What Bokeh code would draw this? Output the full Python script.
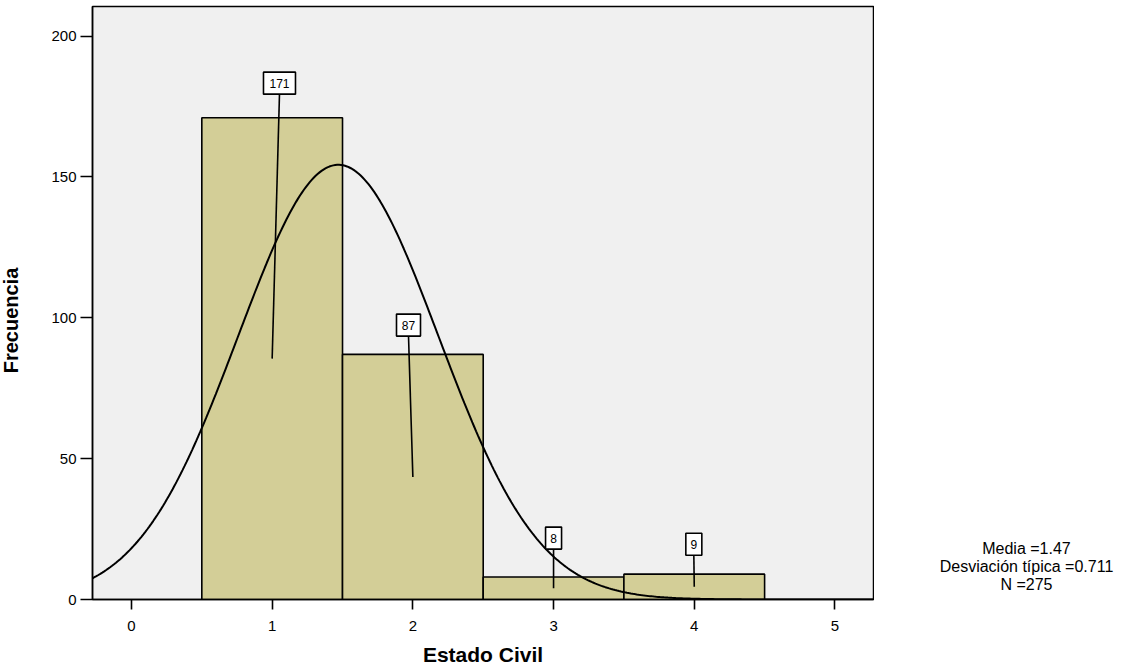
import numpy as np
from bokeh.plotting import figure
from bokeh.layouts import row
from bokeh.models import FixedTicker, Range1d
from bokeh.core.properties import value
from bokeh.embed import file_html
from bokeh.resources import INLINE

# ---- data ----
categories = [1, 2, 3, 4]
counts = [171, 87, 8, 9]
count_labels = ["171", "87", "8", "9"]
x_ticks = [0, 1, 2, 3, 4, 5]
y_ticks = [0, 50, 100, 150, 200]
mean_val = 1.47
sd_val = 0.711
n_val = 275
bin_width = 1.0
x_title = "Estado Civil"
y_title = "Frecuencia"

# ---- layout / style constants ----
FONT = "Liberation Sans"
BAR_FILL = "#D3CE97"
BG = "#F0F0F0"
label_dx = [0.052, -0.031, 0.0, -0.003]
label_dy = [12.3, 10.4, 13.8, 10.6]
LEFT_W, RIGHT_W, H = 40, 268, 668
MAIN_W = 1142 - LEFT_W - RIGHT_W
FRAME_TOP, FRAME_BOTTOM = 6, 599  # canvas rows of the aligned frames

# ---- left panel: y axis title (range maps to canvas pixels) ----
pl = figure(width=LEFT_W, height=H, output_backend="svg", toolbar_location=None,
            x_range=Range1d(0, LEFT_W), y_range=Range1d(FRAME_BOTTOM, FRAME_TOP),
            min_border_left=0, min_border_right=0, min_border_top=FRAME_TOP,
            min_border_bottom=H - FRAME_BOTTOM, outline_line_color=None)
pl.axis.visible = False
pl.grid.visible = False
pl.background_fill_color = "white"
pl.text(x=[10], y=[320], text=[y_title], angle=np.pi / 2, text_align="center",
        text_baseline="middle", text_font=value(FONT), text_font_style="bold",
        text_font_size="20px", text_color="black")

# ---- main histogram ----
p = figure(width=MAIN_W, height=H, output_backend="svg", toolbar_location=None,
           x_range=Range1d(-0.277, 5.274), y_range=Range1d(0, 210.5),
           min_border_left=52, min_border_right=1, min_border_top=FRAME_TOP,
           min_border_bottom=H - FRAME_BOTTOM)
p.background_fill_color = BG
p.border_fill_color = "white"
p.outline_line_color = "black"
p.outline_line_width = 1.5
p.xgrid.visible = False
p.ygrid.visible = False

left = [c - bin_width / 2 for c in categories]
right = [c + bin_width / 2 for c in categories]
p.quad(left=left, right=right, bottom=0, top=counts, fill_color=BAR_FILL,
       line_color="black", line_width=1.6)

# fitted normal curve from the reported mean, sd and N
xs = np.linspace(-0.277, 5.274, 400)
ys = n_val * bin_width / (sd_val * np.sqrt(2 * np.pi)) * np.exp(-0.5 * ((xs - mean_val) / sd_val) ** 2)
p.line(xs, ys, line_color="black", line_width=2)

# value labels with leader lines
lx = [c + d for c, d in zip(categories, label_dx)]
ly = [v + d for v, d in zip(counts, label_dy)]
box_w = [8 + 8 * len(s) for s in count_labels]
box_h_data = 22 / 2.82
p.segment(x0=categories, y0=[v / 2 for v in counts], x1=lx, y1=[y - box_h_data / 2 for y in ly],
          line_color="black", line_width=1.6)
p.rect(x=lx, y=ly, width=box_w, height=22, width_units="screen", height_units="screen",
       fill_color="white", line_color="black", line_width=1.6)
p.text(x=lx, y=ly, text=count_labels, text_align="center", text_baseline="middle",
       text_font=value(FONT), text_font_size="12px", text_color="black")

p.xaxis.ticker = FixedTicker(ticks=x_ticks)
p.yaxis.ticker = FixedTicker(ticks=y_ticks)
for ax in (p.xaxis[0], p.yaxis[0]):
    ax.major_tick_in = 0
    ax.minor_tick_out = 0
    ax.minor_tick_in = 0
    ax.major_tick_line_color = "black"
    ax.major_tick_line_width = 1.6
    ax.axis_line_color = "black"
    ax.axis_line_width = 1.5
    ax.major_label_text_font = FONT
    ax.major_label_text_font_size = "15px"
    ax.major_label_text_color = "black"
    ax.axis_label_text_font = FONT
    ax.axis_label_text_font_style = "bold"
    ax.axis_label_text_color = "black"

p.xaxis.major_tick_out = 10
p.yaxis.major_tick_out = 12
p.xaxis.axis_label = x_title
p.xaxis.axis_label_text_font_size = "21px"
p.xaxis.major_label_standoff = 11
p.xaxis.axis_label_standoff = 9
p.yaxis.major_label_standoff = 4

# ---- right panel: statistics (range maps to canvas pixels) ----
pr = figure(width=RIGHT_W, height=H, output_backend="svg", toolbar_location=None,
            x_range=Range1d(0, RIGHT_W), y_range=Range1d(FRAME_BOTTOM, FRAME_TOP),
            min_border_left=0, min_border_right=0, min_border_top=FRAME_TOP,
            min_border_bottom=H - FRAME_BOTTOM, outline_line_color=None)
pr.axis.visible = False
pr.grid.visible = False
pr.background_fill_color = "white"
stats = [f"Media ={mean_val}", f"Desviación típica ={sd_val}", f"N ={n_val}"]
pr.text(x=[152] * 3, y=[548, 566, 584], text=stats, text_align="center",
        text_baseline="middle", text_font=value(FONT), text_font_size="16px",
        text_color="black")

layout = row(pl, p, pr, spacing=0)
open("out.html", "w").write(file_html(layout, INLINE))
